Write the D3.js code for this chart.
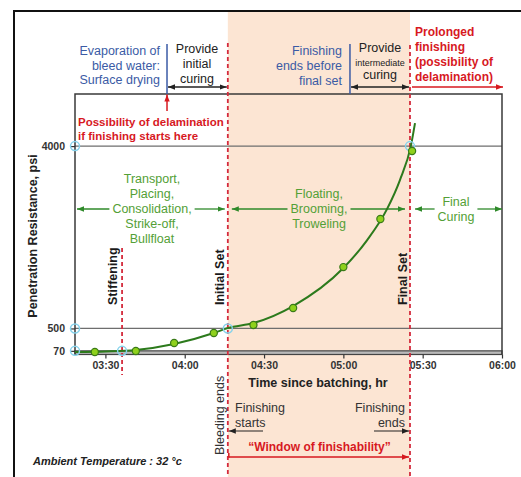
<!DOCTYPE html>
<html><head><meta charset="utf-8">
<script src="https://cdn.jsdelivr.net/npm/d3@7"></script>
<style>
body{margin:0;background:#fff}
svg{display:block;font-family:"Liberation Sans",Arial,Helvetica,sans-serif}
</style>
</head><body>
<svg id="c" width="521" height="477"></svg>
<script>
// ---------- data (time in minutes since batching, resistance in psi) ----------
const xTickMinutes = [210, 240, 270, 300, 330, 360];
const xTickLabels = ["03:30", "04:00", "04:30", "05:00", "05:30", "06:00"];
const yTickValues = [70, 500, 4000];
const yTickLabels = ["70", "500", "4000"];

const obsTime = [206, 221.5, 236, 251, 266, 281, 300, 314, 326];
const obsPsi  = [48, 67, 221, 412, 566, 892, 1678, 2600, 3906];

const fitTime = [198.5, 210, 221.5, 236, 251, 256.3, 266, 281, 300, 309, 316.5, 321.4, 325.6, 327.1];
const fitPsi  = [48, 58, 86, 201, 412, 508, 604, 930, 1659, 2196, 2791, 3348, 4019, 4441];

const eventNames = ["Stiffening", "Initial Set", "Final Set"];
const eventTimes = [216.3, 256.3, 325.2];
const eventPsi   = [70, 500, 4000];

const surfaceDryTime = 233.3;
const finishEndTime = 302.5;
const xDomain = [198.5, 360];
const yDomain = [0, 5000];

// ---------- setup ----------
const svg = d3.select("#c");
const x = d3.scaleLinear().domain(xDomain).range([75, 502]);
const y = d3.scaleLinear().domain(yDomain).range([354.5, 94]);
const [xStiff, xInit, xFinal] = eventTimes.map(x);
const xL = x(xDomain[0]), xR = x(xDomain[1]);
const yTop = y(yDomain[1]), yBot = y(yDomain[0]);

const RED = "#d7191f", BLUE = "#3b5ba5", GREEN_T = "#53a036", GREEN_L = "#2f8a2a",
      CURVE = "#2c7a1c", DASH = "#d42a3c", CYAN = "#86d3ec", PEACH = "#fce5d3";

const defs = svg.append("defs");
function marker(id, color) {
  defs.append("marker").attr("id", id).attr("viewBox", "0 0 10 10")
    .attr("refX", 10).attr("refY", 5).attr("markerWidth", 7).attr("markerHeight", 7)
    .attr("markerUnits", "userSpaceOnUse").attr("orient", "auto-start-reverse")
    .append("path").attr("d", "M0,1.2L10,5L0,8.8Z").attr("fill", color);
}
marker("aK", "#222"); marker("aR", RED); marker("aG", GREEN_L);

function arrow(x1, y1, x2, y2, color, mid, start, end, w) {
  const l = svg.append("line").attr("x1", x1).attr("y1", y1).attr("x2", x2).attr("y2", y2)
    .attr("stroke", color).attr("stroke-width", w || 1.3);
  if (start) l.attr("marker-start", `url(#${mid})`);
  if (end) l.attr("marker-end", `url(#${mid})`);
  return l;
}
function lines(arr, px, py, dy, opts) {
  const g = svg.append("g");
  arr.forEach((t, i) => {
    const tx = g.append("text").attr("x", px).attr("y", py + i * dy).text(t)
      .attr("text-anchor", opts.anchor || "middle")
      .attr("font-size", (opts.sizes && opts.sizes[i]) || opts.size || 12.5)
      .attr("font-weight", opts.weight || "normal")
      .attr("fill", opts.color || "#222");
  });
  return g;
}

// background & shading
svg.append("rect").attr("width", 521).attr("height", 477).attr("fill", "#fff");
svg.append("rect").attr("x", xInit).attr("y", 11).attr("width", xFinal - xInit).attr("height", 470).attr("fill", PEACH);

// gridlines
svg.append("g").selectAll("line").data([4000, 500]).join("line")
  .attr("x1", xL).attr("x2", xR).attr("y1", d => y(d)).attr("y2", d => y(d))
  .attr("stroke", "#6e6e6e").attr("stroke-width", 1.3);

// x-axis band (70 psi line to 0)
svg.append("rect").attr("x", xL).attr("y", y(70)).attr("width", xR - xL).attr("height", y(0) - y(70))
  .attr("fill", "#b9b9b9").attr("stroke", "#444").attr("stroke-width", 1.2);

// plot box
svg.append("path").attr("d", `M${xL},${yBot}V${yTop}H${xR}V${yBot}`)
  .attr("fill", "none").attr("stroke", "#3a3a3a").attr("stroke-width", 1.5);

// axes
const xAxis = svg.append("g").attr("transform", `translate(0,${yBot})`)
  .call(d3.axisBottom(x).tickValues(xTickMinutes).tickFormat((d, i) => xTickLabels[i]).tickSizeInner(4).tickSizeOuter(0).tickPadding(3));
xAxis.select(".domain").remove();
xAxis.selectAll("line").attr("stroke", "#333").attr("stroke-width", 1.2);
xAxis.selectAll("text").attr("font-size", 10.5).attr("font-weight", "bold").attr("fill", "#333")
  .attr("font-family", "Liberation Sans, Arial, sans-serif");

const yAxis = svg.append("g").attr("transform", `translate(${xL},0)`)
  .call(d3.axisLeft(y).tickValues(yTickValues).tickFormat((d, i) => yTickLabels[i]).tickSizeInner(5).tickSizeOuter(0).tickPadding(5));
yAxis.select(".domain").remove();
yAxis.selectAll("line").attr("stroke", "#333").attr("stroke-width", 1.2);
yAxis.selectAll("text").attr("font-size", 10.5).attr("font-weight", "bold").attr("fill", "#333")
  .attr("font-family", "Liberation Sans, Arial, sans-serif");

// red dashed event lines
const dashSpans = [[248, 375], [43, 477], [45, 477]];
svg.append("g").selectAll("line").data(eventTimes).join("line")
  .attr("x1", d => x(d)).attr("x2", d => x(d))
  .attr("y1", (d, i) => dashSpans[i][0]).attr("y2", (d, i) => dashSpans[i][1])
  .attr("stroke", DASH).attr("stroke-width", 1.8).attr("stroke-dasharray", "4,3");

// blue markers above the plot
[surfaceDryTime, finishEndTime].forEach(t => {
  svg.append("line").attr("x1", x(t)).attr("x2", x(t)).attr("y1", 44).attr("y2", yTop)
    .attr("stroke", BLUE).attr("stroke-width", 1.5);
});
arrow(x(surfaceDryTime) + 1, 87, xInit - 1, 87, "#222", "aK", true, true);
arrow(x(finishEndTime) + 1, 87, xFinal - 1, 87, "#222", "aK", true, true);
arrow(xFinal + 2, 87, xR + 1, 87, RED, "aR", false, true, 1.5);
arrow(x(surfaceDryTime), 111, x(surfaceDryTime), yTop + 0.5, RED, "aR", false, true, 1.5);

// top annotations
lines(["Evaporation of", "bleed water:", "Surface drying"], 160, 55, 14.7, {anchor: "end", color: BLUE});
lines(["Provide", "initial", "curing"], 197, 53, 15, {anchor: "middle", color: "#222"});
lines(["Finishing", "ends before", "final set"], 342, 55, 15, {anchor: "end", color: BLUE});
lines(["Provide", "intermediate", "curing"], 380, 52, 13.5, {anchor: "middle", color: "#222", sizes: [12.5, 9, 12.5]});
lines(["Prolonged", "finishing", "(possibility of", "delamination)"], 415, 36, 15, {anchor: "start", color: RED, weight: "bold", size: 12});
lines(["Possibility of delamination", "if finishing starts here"], 78, 126, 14, {anchor: "start", color: RED, weight: "bold", size: 11.5});

// green phase labels with arrows
const phases = [
  {lines: ["Transport,", "Placing,", "Consolidation,", "Strike-off,", "Bullfloat"], cx: 152, y0: 182.5, a: xL + 2, b: xInit - 3},
  {lines: ["Floating,", "Brooming,", "Troweling"], cx: 319, y0: 198, a: xInit + 4, b: xFinal - 5},
  {lines: ["Final", "Curing"], cx: 456, y0: 206, a: xFinal + 5, b: xR}
];
const yArrow = 209;
phases.forEach(p => {
  const g = lines(p.lines, p.cx, p.y0, 15.2, {anchor: "middle", color: GREEN_T});
  let w = 0;
  g.selectAll("text").each(function () { w = Math.max(w, this.getComputedTextLength()); });
  const gl = p.cx - w / 2 - 3, gr = p.cx + w / 2 + 3;
  arrow(gl, yArrow, p.a, yArrow, GREEN_L, "aG", false, true, 1.3);
  arrow(gr, yArrow, p.b, yArrow, GREEN_L, "aG", false, true, 1.3);
});

// fitted curve
const fit = fitTime.map((t, i) => [t, fitPsi[i]]);
svg.append("path").datum(fit)
  .attr("d", d3.line().x(d => x(d[0])).y(d => y(d[1])).curve(d3.curveMonotoneX))
  .attr("fill", "none").attr("stroke", CURVE).attr("stroke-width", 2);

// cyan reference circles
const refPts = [[xDomain[0], 4000], [xDomain[0], 500], [xDomain[0], 70]]
  .concat(eventTimes.map((t, i) => [t, eventPsi[i]]));
svg.append("g").selectAll("circle").data(refPts).join("circle")
  .attr("cx", d => x(d[0])).attr("cy", d => y(d[1])).attr("r", 4.5)
  .attr("fill", "none").attr("stroke", CYAN).attr("stroke-width", 1.5);

// observed points
svg.append("g").selectAll("path").data(obsTime.map((t, i) => [t, obsPsi[i]])).join("path")
  .attr("transform", d => `translate(${x(d[0])},${y(d[1])})`)
  .attr("d", d3.symbol().type(d3.symbolCircle).size(40))
  .attr("fill", "#8fd11c").attr("stroke", "#3a7a18").attr("stroke-width", 1.2);

// rotated event labels
const eventLabelX = [117, 224, 406.5];
eventNames.forEach((n, i) => {
  svg.append("text").attr("transform", `translate(${eventLabelX[i]},305) rotate(-90)`)
    .attr("text-anchor", "start").attr("font-size", 12.5).attr("font-weight", "bold").attr("fill", "#1a1a1a").text(n);
});
svg.append("text").attr("transform", "translate(224,455) rotate(-90)")
  .attr("text-anchor", "start").attr("font-size", 12.5).attr("fill", "#333").text("Bleeding ends");

// axis titles
svg.append("text").attr("transform", "translate(37,236) rotate(-90)")
  .attr("text-anchor", "middle").attr("font-size", 12.5).attr("font-weight", "bold").attr("fill", "#222")
  .text("Penetration Resistance, psi");
svg.append("text").attr("x", 318).attr("y", 387).attr("text-anchor", "middle")
  .attr("font-size", 12.5).attr("font-weight", "bold").attr("fill", "#222").text("Time since batching, hr");

// finishing window annotations
lines(["Finishing", "starts"], 235, 412, 15, {anchor: "start", color: "#333"});
arrow(263, 431, xInit + 1, 431, "#222", "aK", false, true, 1.2);
lines(["Finishing", "ends"], 405, 412, 15, {anchor: "end", color: "#333"});
arrow(374, 431, xFinal - 1, 431, "#222", "aK", false, true, 1.2);
svg.append("text").attr("x", 319.5).attr("y", 451).attr("text-anchor", "middle")
  .attr("font-size", 12).attr("font-weight", "bold").attr("fill", RED).text("\u201CWindow of finishability\u201D");
arrow(xInit + 1, 457, xFinal - 1, 457, RED, "aR", false, true, 1.5);
svg.append("line").attr("x1", xInit + 1).attr("x2", xInit + 1).attr("y1", 453).attr("y2", 457.7)
  .attr("stroke", RED).attr("stroke-width", 1.5);

// ambient temperature
svg.append("text").attr("x", 33).attr("y", 465).attr("font-size", 11).attr("font-weight", "bold")
  .attr("font-style", "italic").attr("fill", "#222").text("Ambient Temperature : 32 \u00B0c");

// outer frame
svg.append("rect").attr("x", 14).attr("y", 11).attr("width", 600).attr("height", 600)
  .attr("fill", "none").attr("stroke", "#111").attr("stroke-width", 2);
</script>
</body></html>
